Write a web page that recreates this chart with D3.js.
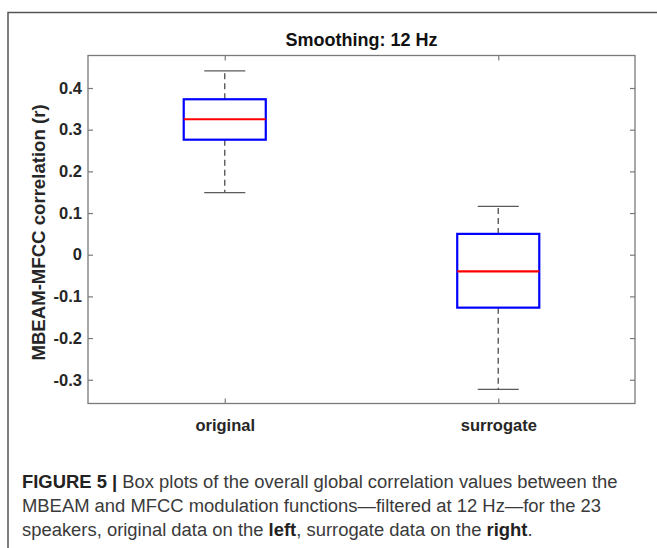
<!DOCTYPE html>
<html>
<head>
<meta charset="utf-8">
<script src="https://cdn.jsdelivr.net/npm/d3@7"></script>
<style>
  html, body { margin: 0; padding: 0; background: #fff; }
  svg { display: block; }
</style>
</head>
<body>
<svg id="chart" width="657" height="548"></svg>
<script>
// ---- data ----
const categories = ["original", "surrogate"];
const whiskerLow  = [0.149, -0.323];
const q1          = [0.276, -0.127];
const medians     = [0.325, -0.040];
const q3          = [0.373, 0.050];
const whiskerHigh = [0.441, 0.116];
const yTicks      = [-0.3, -0.2, -0.1, 0, 0.1, 0.2, 0.3, 0.4];
const yTickLabels = ["-0.3", "-0.2", "-0.1", "0", "0.1", "0.2", "0.3", "0.4"];
const titleText = "Smoothing: 12 Hz";
const yLabelText = "MBEAM-MFCC correlation (r)";

const svg = d3.select("#chart");
const plot = { left: 88, right: 635, top: 55.5, bottom: 403.5 };

// outer frame
svg.append("rect").attr("x", 8).attr("y", 12.5).attr("width", 700).attr("height", 600)
  .attr("fill", "none").attr("stroke", "#555").attr("stroke-width", 1.5);

const x = d3.scalePoint().domain(categories).range([plot.left, plot.right]).padding(0.5);
const y = d3.scaleLinear().domain([-0.357, 0.478]).range([plot.bottom, plot.top]);
const step = x.step();
const boxW = step * 0.30;
const capW = step * 0.15;

const axisColor = "#7a7a7a";
const textColor = "#262626";
const font = "'Liberation Sans', Arial, Helvetica, sans-serif";

const yAxisL = d3.axisLeft(y).tickValues(yTicks).tickFormat((d, i) => yTickLabels[i])
  .tickSizeInner(-5).tickSizeOuter(0).tickPadding(6);
const yAxisR = d3.axisRight(y).tickValues(yTicks).tickFormat("")
  .tickSizeInner(-5).tickSizeOuter(0);
const xAxisB = d3.axisBottom(x).tickSizeInner(-5).tickSizeOuter(0).tickPadding(16);
const xAxisT = d3.axisTop(x).tickFormat("").tickSizeInner(-5).tickSizeOuter(0);

function styleAxis(g) {
  g.selectAll(".domain").remove();
  g.selectAll(".tick line").attr("stroke", axisColor).attr("stroke-width", 1.2);
  g.selectAll(".tick text").attr("fill", textColor).attr("font-family", font)
    .attr("font-weight", "bold").attr("font-size", 16.5);
}
svg.append("g").attr("transform", `translate(${plot.left},0)`).call(yAxisL).call(styleAxis);
svg.append("g").attr("transform", `translate(${plot.right},0)`).call(yAxisR).call(styleAxis);
svg.append("g").attr("transform", `translate(0,${plot.bottom})`).call(xAxisB).call(styleAxis);
svg.append("g").attr("transform", `translate(0,${plot.top})`).call(xAxisT).call(styleAxis);

// plot box
svg.append("rect").attr("x", plot.left).attr("y", plot.top)
  .attr("width", plot.right - plot.left).attr("height", plot.bottom - plot.top)
  .attr("fill", "none").attr("stroke", axisColor).attr("stroke-width", 1.3);

// boxes
const data = categories.map((c, i) => ({
  c, lo: whiskerLow[i], q1: q1[i], med: medians[i], q3: q3[i], hi: whiskerHigh[i]
}));
const g = svg.append("g");
const whiskColor = "#5a5a5a";
data.forEach(d => {
  const cx = x(d.c);
  g.append("line").attr("x1", cx).attr("x2", cx).attr("y1", y(d.q3)).attr("y2", y(d.hi))
    .attr("stroke", whiskColor).attr("stroke-width", 1.4).attr("stroke-dasharray", "6,4");
  g.append("line").attr("x1", cx).attr("x2", cx).attr("y1", y(d.q1)).attr("y2", y(d.lo))
    .attr("stroke", whiskColor).attr("stroke-width", 1.4).attr("stroke-dasharray", "6,4");
  [d.lo, d.hi].forEach(v => {
    g.append("line").attr("x1", cx - capW / 2).attr("x2", cx + capW / 2)
      .attr("y1", y(v)).attr("y2", y(v)).attr("stroke", whiskColor).attr("stroke-width", 1.4);
  });
  g.append("rect").attr("x", cx - boxW / 2).attr("y", y(d.q3))
    .attr("width", boxW).attr("height", y(d.q1) - y(d.q3))
    .attr("fill", "none").attr("stroke", "#0000ff").attr("stroke-width", 2.2);
  g.append("line").attr("x1", cx - boxW / 2).attr("x2", cx + boxW / 2)
    .attr("y1", y(d.med)).attr("y2", y(d.med)).attr("stroke", "#ff0000").attr("stroke-width", 2.2);
});

// title
svg.append("text").attr("x", (plot.left + plot.right) / 2).attr("y", 46)
  .attr("text-anchor", "middle").attr("font-family", font).attr("font-weight", "bold")
  .attr("font-size", 18).attr("fill", "#111").text(titleText);

// y label
svg.append("text").attr("transform", `translate(45,${(plot.top + plot.bottom) / 2 + 3}) rotate(-90)`)
  .attr("text-anchor", "middle").attr("font-family", font).attr("font-weight", "bold")
  .attr("font-size", 18.6).attr("fill", textColor).text(yLabelText);

// caption
const captionLines = [
  [["FIGURE 5 | ", true], ["Box plots of the overall global correlation values between the", false]],
  [["MBEAM and MFCC modulation functions\u2014filtered at 12 Hz\u2014for the 23", false]],
  [["speakers, original data on the ", false], ["left", true], [", surrogate data on the ", false], ["right", true], [".", false]]
];
const capG = svg.append("g");
const capTexts = captionLines.map((parts, i) => {
  const t = capG.append("text").attr("x", 22).attr("y", 488 + i * 24)
    .attr("font-family", font).attr("font-size", 16).attr("fill", "#3a3a3a");
  parts.forEach(([s, b]) => {
    t.append("tspan").attr("font-weight", b ? "bold" : "normal")
      .attr("fill", b ? "#222" : "#3a3a3a").text(s);
  });
  return t;
});
const w0 = capTexts[0].node().getComputedTextLength();
const fs = 16 * 596 / w0;
capTexts.forEach(t => t.attr("font-size", fs));
</script>
</body>
</html>
